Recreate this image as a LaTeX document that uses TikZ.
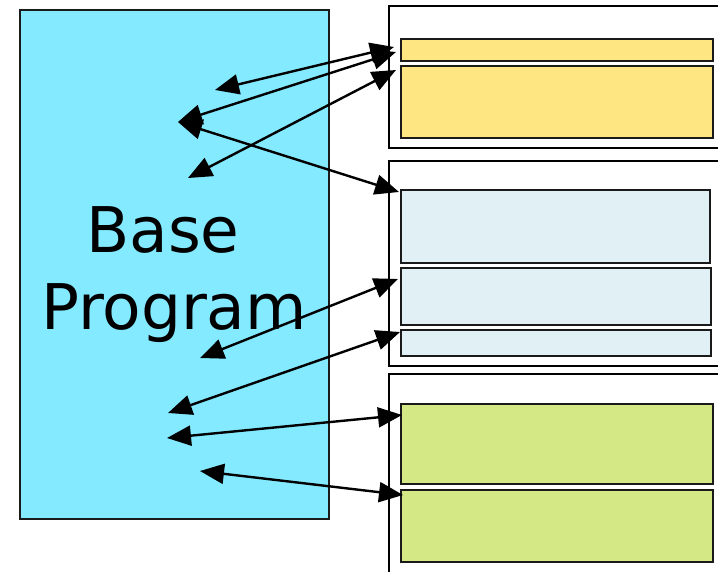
\documentclass[tikz,border=0pt]{standalone}
\usepackage{fontspec}
\newfontfamily\labelfont{DejaVu Sans}
\usetikzlibrary{arrows.meta}
\definecolor{basecyan}{HTML}{84EAFF}
\definecolor{modyellow}{HTML}{FEE783}
\definecolor{modblue}{HTML}{E0F0F4}
\definecolor{modgreen}{HTML}{D4E886}
\definecolor{edge}{HTML}{1A1A1A}
\tikzset{
  modbox/.style={draw=edge, line width=2.3pt, inner sep=0pt, outer sep=0pt, anchor=north west},
  groupbox/.style={draw=black, line width=2.3pt},
  link/.style={line width=2.4pt, {Triangle[length=24pt,width=20pt]}-{Triangle[length=24pt,width=20pt]}},
  biglabel/.style={font=\labelfont\fontsize{63}{76}\selectfont, anchor=base, inner sep=0pt}
}
\begin{document}
\begin{tikzpicture}[x=1pt,y=-1pt]
\clip (0,0) rectangle (718,571);
\fill[white] (0,0) rectangle (718,571);

% base program
\node[modbox, fill=basecyan, minimum width=309pt, minimum height=509pt] (base) at (20,10) {};
\node[biglabel] (lbase) at (163,252) {Base};
\node[biglabel] (lprog) at (174,329) {Program};

% module groups (run past the right edge)
\draw[groupbox] (740,6) -- (389,6) -- (389,148) -- (740,148);
\draw[groupbox] (740,161) -- (389,161) -- (389,366) -- (740,366);
\draw[groupbox] (740,374) -- (389,374) -- (389,590);

% group 1
\node[modbox, fill=modyellow, minimum width=312pt, minimum height=22pt] (y1) at (401,39) {};
\node[modbox, fill=modyellow, minimum width=312pt, minimum height=72pt] (y2) at (401,66) {};
% group 2
\node[modbox, fill=modblue, minimum width=309pt, minimum height=73pt] (b1) at (401,190) {};
\node[modbox, fill=modblue, minimum width=310pt, minimum height=57pt] (b2) at (401,268) {};
\node[modbox, fill=modblue, minimum width=310pt, minimum height=26pt] (b3) at (401,330) {};
% group 3
\node[modbox, fill=modgreen, minimum width=312pt, minimum height=80pt] (g1) at (401,404) {};
\node[modbox, fill=modgreen, minimum width=312pt, minimum height=72pt] (g2) at (401,490) {};

% link end points inside the base program
\coordinate (p1) at (215,90);
\coordinate (p2) at (178,122);
\coordinate (p3) at (188,178);
\coordinate (p5) at (200,358);
\coordinate (p6) at (168,413);
\coordinate (p7) at (167,438);
\coordinate (p8) at (200,471);

% link end points at the modules
\coordinate (q1) at ([shift={(-7,8)}]y1.north west);
\coordinate (q2) at ([shift={(-5,13)}]y1.north west);
\coordinate (q3) at ([shift={(-5,4)}]y2.north west);
\coordinate (q4) at ([shift={(-2,2)}]b1.north west);
\coordinate (q5) at ([shift={(-3,11)}]b2.north west);
\coordinate (q6) at ([shift={(-1,2)}]b3.north west);
\coordinate (q7) at ([shift={(1,11)}]g1.north west);
\coordinate (q8) at ([shift={(2,5)}]g2.north west);

\draw[link] (p1) -- (q1);
\draw[link] (p2) -- (q2);
\draw[link] (p3) -- (q3);
\draw[link] (p2) -- (q4);
\draw[link] (p5) -- (q5);
\draw[link] (p6) -- (q6);
\draw[link] (p7) -- (q7);
\draw[link] (p8) -- (q8);
\end{tikzpicture}
\end{document}
